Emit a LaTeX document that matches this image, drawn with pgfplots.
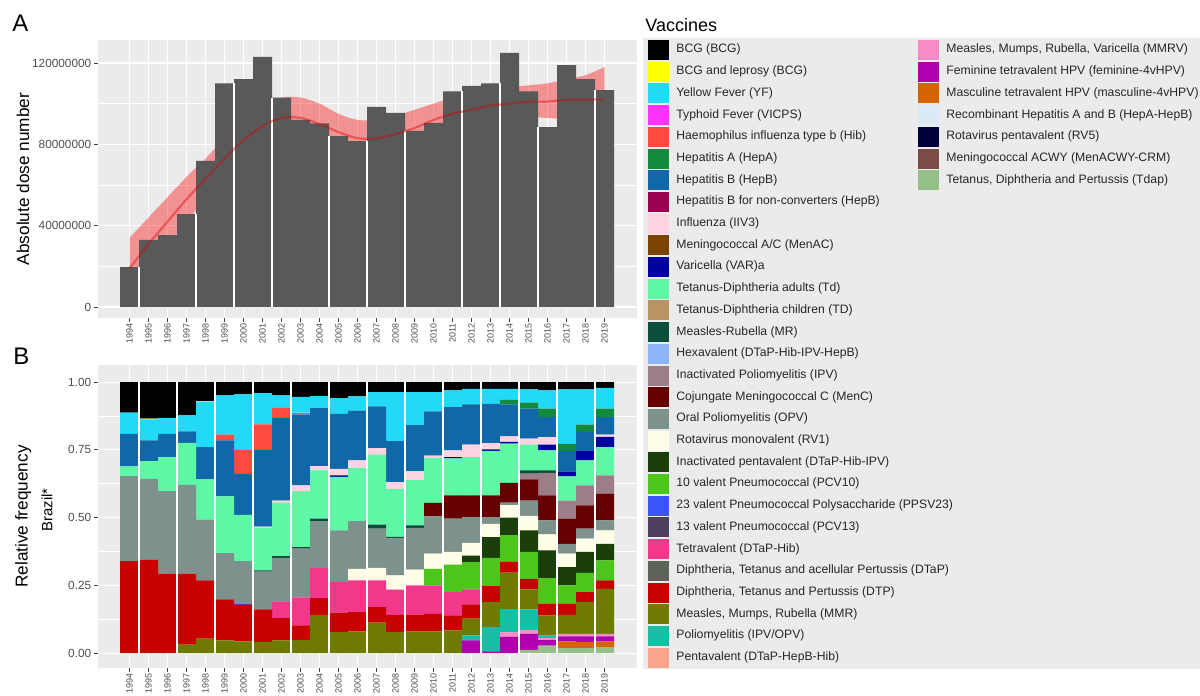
\documentclass[border=0pt]{standalone}
\usepackage{fontspec}
\setmainfont{Liberation Sans}
\usepackage{pgfplots}
\usepackage{pgfplotstable}
\pgfplotsset{compat=1.18}
\usepgfplotslibrary{fillbetween}

\definecolor{bgpanel}{HTML}{EBEBEB}
\definecolor{barA}{HTML}{595959}
\definecolor{ticktxt}{HTML}{4D4D4D}
\definecolor{col1}{HTML}{000000}
\definecolor{col2}{HTML}{FFFF00}
\definecolor{col3}{HTML}{22DAF8}
\definecolor{col4}{HTML}{FF33FF}
\definecolor{col5}{HTML}{FF4A42}
\definecolor{col6}{HTML}{128A3E}
\definecolor{col7}{HTML}{1068A8}
\definecolor{col8}{HTML}{990050}
\definecolor{col9}{HTML}{FFD3E2}
\definecolor{col10}{HTML}{7A4400}
\definecolor{col11}{HTML}{00009E}
\definecolor{col12}{HTML}{5EF7A6}
\definecolor{col13}{HTML}{B99463}
\definecolor{col14}{HTML}{0A4D3A}
\definecolor{col15}{HTML}{8DB4F6}
\definecolor{col16}{HTML}{9B7E87}
\definecolor{col17}{HTML}{660000}
\definecolor{col18}{HTML}{7D928D}
\definecolor{col19}{HTML}{FFFDE6}
\definecolor{col20}{HTML}{1B3F0B}
\definecolor{col21}{HTML}{4DC61A}
\definecolor{col22}{HTML}{3C55F6}
\definecolor{col23}{HTML}{4E3F5E}
\definecolor{col24}{HTML}{F2388A}
\definecolor{col25}{HTML}{5C6459}
\definecolor{col26}{HTML}{C70000}
\definecolor{col27}{HTML}{6E7B00}
\definecolor{col28}{HTML}{14BFA5}
\definecolor{col29}{HTML}{F9A58D}
\definecolor{col30}{HTML}{F98BC9}
\definecolor{col31}{HTML}{AE00AE}
\definecolor{col32}{HTML}{D66300}
\definecolor{col33}{HTML}{DCEAF8}
\definecolor{col34}{HTML}{00003A}
\definecolor{col35}{HTML}{7C4B46}
\definecolor{col36}{HTML}{94BF88}

\newcommand\lc[1]{\makebox[121pt][l]{#1}}
\newcommand\lcb[1]{\makebox[128pt][l]{#1}}
\newcommand\vn[2]{\expandafter\def\csname vname#1\endcsname{#2}}
\vn{1}{\lc{BCG (BCG)}}
\vn{2}{\lc{BCG and leprosy (BCG)}}
\vn{3}{\lc{Yellow Fever (YF)}}
\vn{4}{\lc{Typhoid Fever (VICPS)}}
\vn{5}{\lc{Haemophilus influenza type b (Hib)}}
\vn{6}{\lc{Hepatitis A (HepA)}}
\vn{7}{\lc{Hepatitis B (HepB)}}
\vn{8}{\lc{Hepatitis B for non-converters (HepB)}}
\vn{9}{\lc{Influenza (IIV3)}}
\vn{10}{\lc{Meningococcal A/C (MenAC)}}
\vn{11}{\lc{Varicella (VAR)a}}
\vn{12}{\lc{Tetanus-Diphtheria adults (Td)}}
\vn{13}{\lc{Tetanus-Diphtheria children (TD)}}
\vn{14}{\lc{Measles-Rubella (MR)}}
\vn{15}{\lc{Hexavalent (DTaP-Hib-IPV-HepB)}}
\vn{16}{\lc{Inactivated Poliomyelitis (IPV)}}
\vn{17}{\lc{Cojungate Meningococcal C (MenC)}}
\vn{18}{\lc{Oral Poliomyelitis (OPV)}}
\vn{19}{\lc{Rotavirus monovalent (RV1)}}
\vn{20}{\lc{Inactivated pentavalent (DTaP-Hib-IPV)}}
\vn{21}{\lc{10 valent Pneumococcal (PCV10)}}
\vn{22}{\lc{23 valent Pneumococcal Polysaccharide (PPSV23)}}
\vn{23}{\lc{13 valent Pneumococcal (PCV13)}}
\vn{24}{\lc{Tetravalent (DTaP-Hib)}}
\vn{25}{\lc{Diphtheria, Tetanus and acellular Pertussis (DTaP)}}
\vn{26}{\lc{Diphtheria, Tetanus and Pertussis (DTP)}}
\vn{27}{\lc{Measles, Mumps, Rubella (MMR)}}
\vn{28}{\lc{Poliomyelitis (IPV/OPV)}}
\vn{29}{\lc{Pentavalent (DTaP-HepB-Hib)}}
\vn{30}{\lcb{Measles, Mumps, Rubella, Varicella (MMRV)}}
\vn{31}{\lcb{Feminine tetravalent HPV (feminine-4vHPV)}}
\vn{32}{\lcb{Masculine tetravalent HPV (masculine-4vHPV)}}
\vn{33}{\lcb{Recombinant Hepatitis A and B (HepA-HepB)}}
\vn{34}{\lcb{Rotavirus pentavalent (RV5)}}
\vn{35}{\lcb{Meningococcal ACWY (MenACWY-CRM)}}
\vn{36}{\lcb{Tetanus, Diphtheria and Pertussis (Tdap)}}

% Panel A: absolute doses (millions)
\pgfplotstableread{
year A
1994 19.7
1995 33.0
1996 35.4
1997 45.7
1998 71.8
1999 110.0
2000 112.0
2001 123.0
2002 103.0
2003 92.0
2004 90.3
2005 84.0
2006 81.6
2007 98.4
2008 95.5
2009 86.6
2010 90.5
2011 106.0
2012 108.7
2013 110.0
2014 125.0
2015 106.0
2016 88.5
2017 119.0
2018 112.0
2019 106.7
}\dataA

\pgfplotstableread{
year lo mid hi
1994 4 19 34
1995 17 31 44
1996 30 42 54
1997 42 53 64
1998 53 63 73
1999 63 73 83
2000 72 82 92
2001 79 89 99
2002 83 93 103
2003 83 93 103
2004 80 90 100
2005 76 86 95
2006 74 83 92
2007 74 83 92
2008 76 85 94
2009 79 88 97
2010 83 92 100
2011 86 95 103
2012 89 97 105
2013 91 99 107
2014 92 100 108
2015 93 101 109
2016 93 101 110
2017 92 102 112
2018 90 102 114
2019 86 102 118
}\smoothA

\pgfplotstableread{
x h
1994.5 19.7
1997.5 45.7
1999.5 110
2001.5 103
2004.5 84
2006.5 81.6
2008.5 86.6
2011.5 106
2013.5 110
2015.5 88.5
2018.5 106.7
}\gapA

% Panel B: relative frequency per vaccine (columns in legend order)
\pgfplotstableread{
year c1 c2 c3 c4 c5 c6 c7 c8 c9 c10 c11 c12 c13 c14 c15 c16 c17 c18 c19 c20 c21 c22 c23 c24 c25 c26 c27 c28 c29 c30 c31 c32 c33 c34 c35 c36
1994 0.113 0 0.078 0 0 0 0.120 0 0 0 0 0.036 0 0 0 0 0 0.314 0 0 0 0 0 0 0 0.339 0 0 0 0 0 0 0 0 0 0
1995 0.135 0.003 0.077 0 0 0 0.077 0 0 0 0 0.065 0 0 0 0 0 0.299 0 0 0 0 0 0 0 0.344 0 0 0 0 0 0 0 0 0 0
1996 0.132 0 0.059 0 0 0 0.086 0 0 0 0 0.125 0 0 0 0 0 0.305 0 0 0 0 0 0 0 0.293 0 0 0 0 0 0 0 0 0 0
1997 0.123 0 0.059 0 0 0 0.042 0 0 0 0 0.155 0 0 0 0 0 0.328 0 0 0 0 0 0 0 0.262 0.031 0 0 0 0 0 0 0 0 0
1998 0.070 0.002 0.168 0 0 0 0.119 0 0 0 0 0.149 0 0 0 0 0 0.224 0 0 0 0 0 0 0 0.215 0.053 0 0 0 0 0 0 0 0 0
1999 0.049 0 0.145 0 0.021 0 0.207 0 0 0 0 0.209 0 0 0 0 0 0.171 0 0 0 0 0 0 0 0.151 0.047 0 0 0 0 0 0 0 0 0
2000 0.045 0 0.205 0 0.089 0 0.151 0 0 0 0 0.171 0 0 0 0 0 0.157 0 0 0 0.003 0 0 0 0.136 0.043 0 0 0 0 0 0 0 0 0
2001 0.041 0 0.115 0 0.094 0 0.283 0 0.004 0 0 0.158 0 0.004 0 0 0 0.140 0 0 0 0 0 0 0 0.120 0.041 0 0 0 0 0 0 0 0 0
2002 0.049 0 0.046 0 0.037 0 0.305 0 0.008 0 0 0.197 0 0.007 0 0 0 0.160 0 0 0 0 0 0.062 0 0.082 0.047 0 0 0 0 0 0 0 0 0
2003 0.055 0 0.058 0.006 0 0 0.262 0 0.021 0 0 0.207 0 0.006 0 0 0 0.179 0 0 0 0 0 0.104 0 0.053 0.049 0 0 0 0 0 0 0 0 0
2004 0.052 0 0.044 0 0 0 0.214 0 0.016 0 0 0.178 0 0.009 0 0 0 0.173 0 0 0 0 0 0.111 0 0.062 0.141 0 0 0 0 0 0 0 0 0
2005 0.059 0 0.058 0 0 0 0.203 0 0.024 0 0.006 0.197 0 0 0 0 0 0.191 0 0 0 0 0 0.113 0 0.072 0.077 0 0 0 0 0 0 0 0 0
2006 0.053 0 0.052 0 0 0 0.184 0 0.028 0 0 0.196 0 0 0 0 0 0.176 0.043 0 0 0 0 0.117 0 0.071 0.080 0 0 0 0 0 0 0 0 0
2007 0.037 0 0.053 0 0 0 0.154 0 0.024 0 0 0.258 0 0.015 0 0 0 0.145 0.046 0 0 0 0 0.098 0 0.058 0.112 0 0 0 0 0 0 0 0 0
2008 0.037 0 0.181 0 0 0 0.151 0 0.025 0 0 0.177 0 0.004 0 0 0 0.138 0.053 0 0 0 0 0.094 0 0.063 0.077 0 0 0 0 0 0 0 0 0
2009 0.037 0 0.122 0 0 0 0.170 0 0.033 0 0 0.167 0 0.009 0 0 0 0.154 0.058 0 0 0 0 0.108 0 0.062 0.080 0 0 0 0 0 0 0 0 0
2010 0.037 0 0.071 0 0 0 0.163 0 0.009 0 0 0.166 0 0 0 0 0.050 0.137 0.056 0 0.061 0 0 0.105 0 0.065 0.080 0 0 0 0 0 0 0 0 0
2011 0.031 0 0.061 0 0 0 0.160 0 0.025 0 0.005 0.136 0 0 0 0 0.086 0.123 0.047 0 0.101 0 0 0.086 0 0.055 0.084 0 0 0 0 0 0 0 0 0
2012 0.025 0 0.057 0 0 0 0.149 0 0.046 0 0 0.141 0 0 0 0 0.080 0.095 0.047 0.024 0.101 0 0 0.055 0 0.053 0.062 0.018 0 0 0.047 0 0 0 0 0
2013 0.025 0 0.055 0 0 0 0.145 0 0.023 0 0.006 0.164 0 0 0 0 0.080 0.025 0.049 0.077 0.104 0 0 0 0 0.059 0.092 0.090 0 0 0.006 0 0 0 0 0
2014 0.025 0 0.041 0 0 0.016 0.118 0 0.021 0 0.006 0.145 0 0 0 0 0.073 0.009 0.046 0.065 0.098 0 0 0 0 0.040 0.135 0.086 0 0.016 0.060 0 0 0 0 0
2015 0.027 0 0.049 0 0 0.022 0.111 0 0.022 0 0 0.095 0 0.012 0 0.021 0.078 0.057 0.053 0.080 0.099 0 0 0 0 0.039 0.074 0.077 0 0.013 0.059 0 0 0 0 0.012
2016 0.031 0 0.067 0 0 0.031 0.074 0 0.028 0 0.021 0.074 0 0.009 0 0.083 0.092 0.052 0.059 0.102 0.095 0 0 0 0 0.043 0.074 0.009 0 0.008 0.020 0 0 0 0 0.028
2017 0.027 0 0.201 0 0 0.027 0.075 0 0 0 0.018 0.089 0 0 0 0.067 0.093 0.036 0.050 0.067 0.068 0 0 0 0 0.041 0.070 0 0 0.009 0.019 0.025 0 0 0 0.018
2018 0.027 0 0.130 0 0 0.028 0.070 0 0 0 0.034 0.092 0 0 0 0.074 0.086 0.037 0.049 0.077 0.071 0 0 0 0 0.037 0.117 0 0 0.009 0.021 0.023 0 0 0 0.018
2019 0.021 0 0.077 0 0 0.031 0.065 0 0.008 0 0.038 0.104 0 0 0 0.068 0.098 0.037 0.050 0.061 0.074 0 0 0 0 0.031 0.166 0 0 0.009 0.019 0.021 0 0 0 0.022
}\dataB

\pgfplotstableread{
x h
1994.5 1
1996.5 1
1998.5 1
2000.5 1
2002.5 1
2004.5 1
2006.5 1
2008.5 1
2010.5 1
2012.5 1
2014.5 1
2016.5 1
2018.5 1
}\gapB

\pgfplotsset{
  lkey/.style={legend image code/.code={%
      \fill[##1,draw=none] (0pt,-5pt) rectangle (10.5pt,5pt);
      \path[fill=none,draw=none] (0pt,-5.425pt) rectangle (14pt,5.425pt);}},
  ggbase/.style={
    scale only axis, width=269.5pt,
    axis background/.style={fill=bgpanel},
    axis line style={draw=none},
    xmin=1992.34, xmax=2020.71,
    xtick={1994,...,2019},
    xticklabels={1994,1995,1996,1997,1998,1999,2000,2001,2002,2003,2004,2005,2006,2007,2008,2009,2010,2011,2012,2013,2014,2015,2016,2017,2018,2019},
    minor x tick num=2,
    grid=both,
    major grid style={white, line width=0.55pt},
    minor grid style={white, line width=0.3pt},
    tick align=outside,
    major tick length=2pt, minor tick length=0pt,
    tick style={black!75, line width=0.4pt},
    tick pos=left,
    xticklabel style={rotate=90, anchor=east, font=\fontsize{4.5}{5}\selectfont, text=ticktxt, inner sep=0.3pt},
    yticklabel style={font=\fontsize{5.9}{6.5}\selectfont, text=ticktxt, inner sep=1.2pt},
    ylabel style={at={(axis description cs:-0.139,0.5)}, anchor=center, font=\fontsize{8.6}{10}\selectfont},
  },
}
\newcommand\li[1]{\addlegendimage{lkey,fill=col#1,draw=none}\addlegendentry{\csname vname#1\endcsname}}
\newcommand\lempty{\addlegendimage{empty legend}\addlegendentry{}}

\begin{document}
\begin{tikzpicture}
% ---------------- Panel A ----------------
\begin{axis}[ggbase, at={(49pt,189pt)}, anchor=south west, height=139pt,
  ymin=-5.4, ymax=131.3,
  ytick={0,40,80,120}, yticklabels={0,40000000,80000000,120000000},
  minor y tick num=1,
  ylabel={Absolute dose number}]
\addplot[ybar, bar width=1, bar shift=0pt, fill=barA, draw=none] table[x=year,y=A]{\dataA};
\addplot[ycomb, white, line width=0.6pt, mark=none] table[x=x,y=h]{\gapA};
\addplot[name path=up, draw=none, smooth] table[x=year,y=hi]{\smoothA};
\addplot[name path=lo, draw=none, smooth] table[x=year,y=lo]{\smoothA};
\addplot[fill=red, fill opacity=0.38, draw=none] fill between[of=up and lo];
\addplot[red!85!black, opacity=0.4, line width=1.1pt, smooth] table[x=year,y=mid]{\smoothA};
\end{axis}

% ---------------- Panel B ----------------
\begin{axis}[ggbase, at={(49pt,14pt)}, anchor=south west, height=151.5pt,
  ymin=-0.055, ymax=1.063,
  ytick={0,0.25,0.5,0.75,1}, yticklabels={0.00,0.25,0.50,0.75,1.00},
  minor y tick num=1,
  ylabel={Relative frequency},
  ybar stacked, bar width=1,
  legend columns=2,
  legend cell align=left,
  legend style={at={(1.01113,2.07921)}, anchor=north west, fill=bgpanel, draw=none,
    inner xsep=2.5pt, inner ysep=0.4pt, row sep=0pt, column sep=0pt,
    font=\fontsize{6.1}{7}\selectfont, text=black!85,
    nodes={inner sep=0pt, minimum height=10.85pt}}]
% legend (two columns, filled row by row)
\li{1}\li{30}
\li{2}\li{31}
\li{3}\li{32}
\li{4}\li{33}
\li{5}\li{34}
\li{6}\li{35}
\li{7}\li{36}
\li{8}\lempty
\li{9}\lempty
\li{10}\lempty
\li{11}\lempty
\li{12}\lempty
\li{13}\lempty
\li{14}\lempty
\li{15}\lempty
\li{16}\lempty
\li{17}\lempty
\li{18}\lempty
\li{19}\lempty
\li{20}\lempty
\li{21}\lempty
\li{22}\lempty
\li{23}\lempty
\li{24}\lempty
\li{25}\lempty
\li{26}\lempty
\li{27}\lempty
\li{28}\lempty
\li{29}\lempty
% stacked bars, bottom (Tdap) to top (BCG)
\pgfplotsinvokeforeach{36,35,...,1}{
  \addplot[fill=col#1, draw=none] table[x=year,y=c#1]{\dataB};
}
\end{axis}
\begin{axis}[scale only axis, width=269.5pt, height=151.5pt, at={(49pt,14pt)}, anchor=south west,
  xmin=1992.34, xmax=2020.71, ymin=-0.055, ymax=1.063, hide axis]
\addplot[ycomb, white, line width=0.6pt, mark=none] table[x=x,y=h]{\gapB};
\end{axis}

% ---------------- Labels ----------------
\node[anchor=base west, font=\fontsize{12}{14}\selectfont, inner sep=0pt] at (6pt,332pt) {A};
\node[anchor=base west, font=\fontsize{12}{14}\selectfont, inner sep=0pt] at (6.5pt,165.5pt) {B};
\node[anchor=base west, font=\fontsize{9}{10}\selectfont, inner sep=0pt] at (322.5pt,332pt) {Vaccines};
\node[rotate=90, font=\fontsize{7.5}{9}\selectfont, inner sep=0pt] at (23.5pt,93pt) {Brazil*};

\pgfresetboundingbox
\path[use as bounding box] (0,0) rectangle (600pt,348pt);
\end{tikzpicture}
\end{document}
